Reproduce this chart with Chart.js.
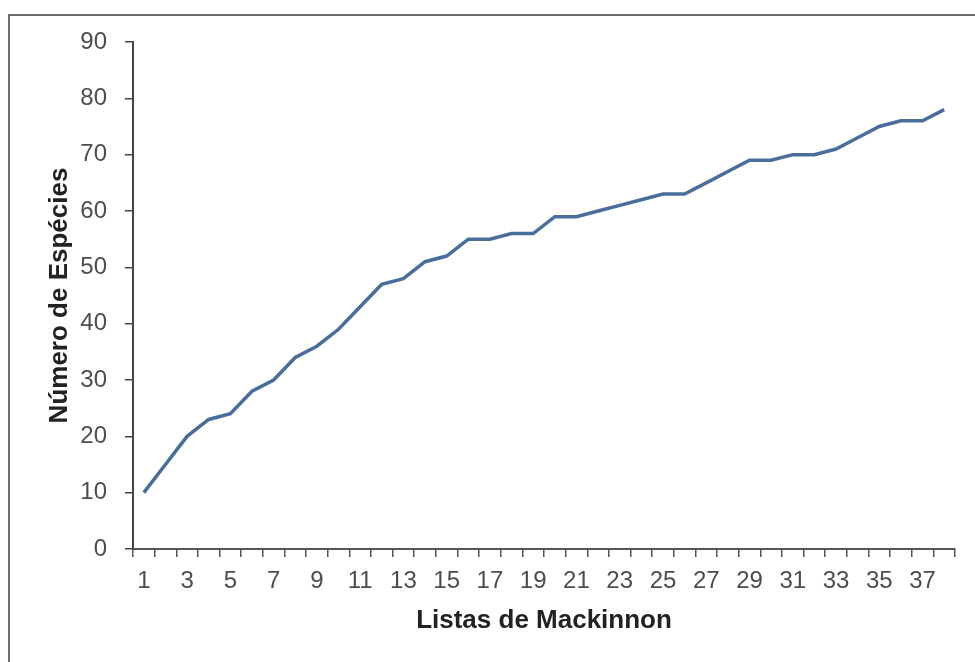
<!DOCTYPE html>
<html>
<head>
<meta charset="utf-8">
<script src="https://cdn.jsdelivr.net/npm/chart.js@4/dist/chart.umd.min.js"></script>
<style>
  html, body { margin: 0; padding: 0; background: #fff; }
  canvas { display: block; }
</style>
</head>
<body>
<canvas id="speciesChart" width="975" height="662"></canvas>
<script>
// Mackinnon lists (x categories) and cumulative species count
const listas = ['1', '2', '3', '4', '5', '6', '7', '8', '9', '10',
  '11', '12', '13', '14', '15', '16', '17', '18', '19', '20',
  '21', '22', '23', '24', '25', '26', '27', '28', '29', '30',
  '31', '32', '33', '34', '35', '36', '37', '38'];
const especies = [10, 15, 20, 23, 24, 28, 30, 34, 36, 39,
  43, 47, 48, 51, 52, 55, 55, 56, 56, 59,
  59, 60, 61, 62, 63, 63, 65, 67, 69, 69,
  70, 70, 71, 73, 75, 76, 76, 78];
const yMin = 0;
const yMax = 90;
const yStep = 10;

const xTitle = 'Listas de Mackinnon';
const yTitle = 'Número de Espécies';

// Outer frame around the whole picture
const framePlugin = {
    id: 'frame',
    beforeDraw(chart) {
        const ctx = chart.ctx;
        ctx.save();
        ctx.fillStyle = '#ffffff';
        ctx.fillRect(0, 0, chart.width, chart.height);
        ctx.strokeStyle = '#6e6e6e';
        ctx.lineWidth = 2;
        ctx.strokeRect(9, 15, 2000, 2000);
        ctx.restore();
    }
};

const ctx = document.getElementById('speciesChart').getContext('2d');
const chart = new Chart(ctx, {
    type: 'line',
    data: {
        labels: listas,
        datasets: [{
            data: especies,
            borderColor: '#4a6e9b',
            borderWidth: 3.5,
            pointRadius: 0,
            tension: 0,
            fill: false
        }]
    },
    options: {
        responsive: false,
        devicePixelRatio: 1,
        animation: false,
        layout: {
            padding: { left: 0, top: 42, right: 20, bottom: 0 }
        },
        plugins: {
            legend: { display: false },
            tooltip: { enabled: false }
        },
        scales: {
            x: {
                offset: true,
                afterFit: (scale) => { scale.height = 113; },
                grid: {
                    offset: true,
                    drawOnChartArea: false,
                    drawTicks: true,
                    tickLength: 8,
                    color: '#555555',
                    lineWidth: 1.5
                },
                border: { color: '#555555', width: 2 },
                ticks: {
                    autoSkip: false,
                    maxRotation: 0,
                    padding: 10,
                    color: '#4d4d4d',
                    font: { family: 'Liberation Sans, Arial, sans-serif', size: 24 },
                    callback: function (value, index) {
                        return index % 2 === 0 ? this.getLabelForValue(value) : '';
                    }
                },
                title: {
                    display: true,
                    text: xTitle,
                    color: '#222222',
                    padding: { top: 0, bottom: 26 },
                    font: { family: 'Liberation Sans, Arial, sans-serif', size: 26, weight: 'bold' }
                }
            },
            y: {
                min: yMin,
                max: yMax,
                afterFit: (scale) => { scale.width = 133; },
                grid: {
                    drawOnChartArea: false,
                    drawTicks: true,
                    tickLength: 8,
                    color: '#444444',
                    lineWidth: 1.5
                },
                border: { color: '#444444', width: 2 },
                ticks: {
                    stepSize: yStep,
                    padding: 18,
                    color: '#4d4d4d',
                    font: { family: 'Liberation Sans, Arial, sans-serif', size: 24 }
                },
                title: {
                    display: true,
                    text: yTitle,
                    color: '#222222',
                    padding: { top: 44, bottom: 0 },
                    font: { family: 'Liberation Sans, Arial, sans-serif', size: 26, weight: 'bold' }
                }
            }
        }
    },
    plugins: [framePlugin]
});
</script>
</body>
</html>
